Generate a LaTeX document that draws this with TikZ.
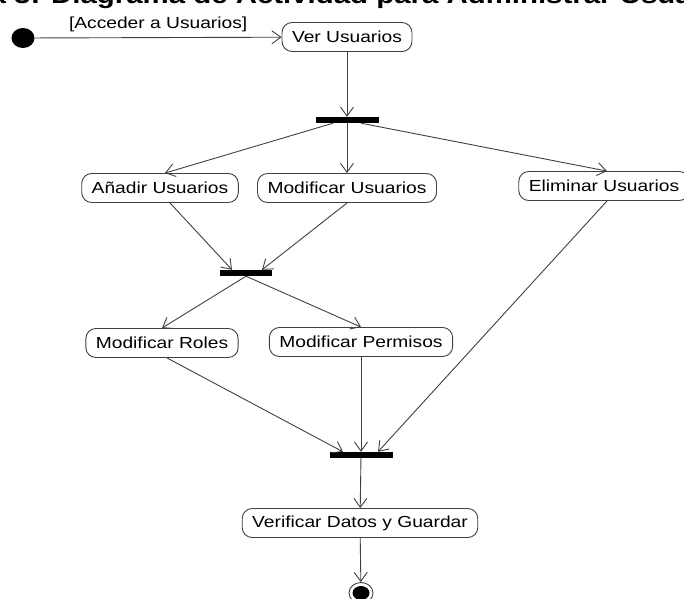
\documentclass[tikz,border=0pt]{standalone}
\usepackage{fontspec}
\setmainfont{Liberation Sans}
\newfontfamily\actfont{Liberation Sans}[FakeStretch=1.2]
\usetikzlibrary{arrows.meta,shapes.geometric}
\definecolor{umlline}{HTML}{404040}

\begin{document}
\begin{tikzpicture}[x=1pt,y=-1pt,>={Straight Barb[length=9pt,width=13pt]},
    act/.style={draw=umlline,line width=0.9pt,rounded corners=10pt,fill=white,
      minimum height=29pt,inner xsep=10pt,font=\fontsize{16}{18}\actfont},
    bar/.style={fill=black,draw=none,inner sep=0pt,minimum height=6pt},
    flow/.style={->,umlline,line width=0.9pt}]
  \useasboundingbox (0,0) rectangle (684,598);
  \clip (0,0) rectangle (684,598);
  % title, cut by the page edge
  \node[anchor=base west,inner sep=0pt,font=\fontsize{24.5}{28}\actfont\bfseries] (title) at (-84,3)
    {Figura 3: Diagrama de Actividad para Administrar Usuarios};
  % start and end
  \node[ellipse,fill=black,minimum width=23pt,minimum height=20pt,inner sep=0pt] (ini) at (23,38) {};
  \node[ellipse,draw=umlline,line width=0.9pt,minimum width=24pt,minimum height=21pt,inner sep=0pt] (fin) at (361,593) {};
  \fill (fin.center) ellipse (8.5 and 7);
  % activities
  \node[act] (ver) at (347,37) {Ver Usuarios};
  \node[act] (anadir) at (160,188) {Añadir Usuarios};
  \node[act] (modu) at (347,188) {Modificar Usuarios};
  \node[act] (elim) at (604,186) {Eliminar Usuarios};
  \node[act] (roles) at (162,343) {Modificar Roles};
  \node[act] (perm) at (361,342) {Modificar Permisos};
  \node[act] (verif) at (360,523) {Verificar Datos y Guardar};
  % fork / join bars
  \node[bar,minimum width=63pt] (fork) at (347,120) {};
  \node[bar,minimum width=52pt] (joina) at (246,273) {};
  \node[bar,minimum width=63pt] (joinb) at (361,455) {};
  % flows
  \draw[flow] (ini) -- node[midway,above=2pt,text=black,font=\fontsize{16}{18}\actfont] (guard) {[Acceder a Usuarios]} (ver);
  \draw[flow] (ver) -- (fork);
  \draw[flow] ([xshift=-14pt]fork.south) -- ([xshift=5pt]anadir.north);
  \draw[flow] (fork) -- (modu);
  \draw[flow] ([xshift=14pt]fork.south) -- ([xshift=3pt]elim.north);
  \draw[flow] ([xshift=10pt]anadir.south) -- ([xshift=-14pt]joina.north);
  \draw[flow] (modu.south) -- ([xshift=16pt]joina.north);
  \draw[flow] (joina.south) -- (roles.north);
  \draw[flow] (joina.south) -- (perm.north);
  \draw[flow] ([xshift=5pt]roles.south) -- ([xshift=-18pt]joinb.north);
  \draw[flow] (perm.south) -- (joinb.north);
  \draw[flow] ([xshift=3pt]elim.south) -- ([xshift=17pt]joinb.north);
  \draw[flow] (joinb) -- (verif);
  \draw[flow] (verif) -- (fin);
\end{tikzpicture}
\end{document}
